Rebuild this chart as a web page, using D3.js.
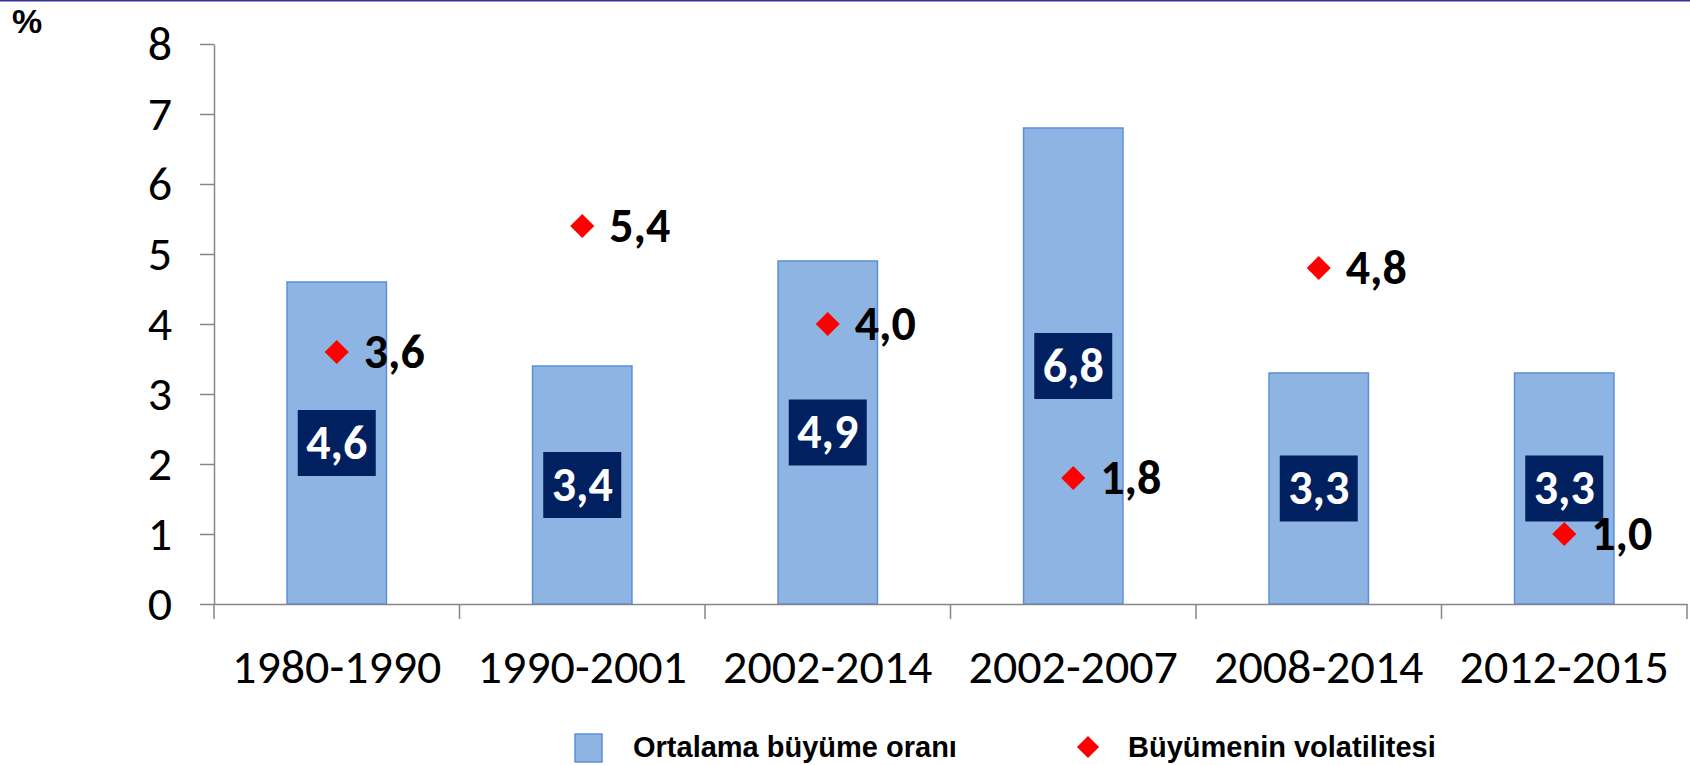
<!DOCTYPE html>
<html>
<head>
<meta charset="utf-8">
<script src="https://cdn.jsdelivr.net/npm/d3@7"></script>
<style>
  body { margin: 0; background: #fff; }
  svg { display: block; }
</style>
</head>
<body>
<div id="chart"></div>
<script>
// periods and the two series
const periods = ['1980-1990', '1990-2001', '2002-2014', '2002-2007', '2008-2014', '2012-2015'];
const avgGrowth = [4.6, 3.4, 4.9, 6.8, 3.3, 3.3];
const volatility = [3.6, 5.4, 4.0, 1.8, 4.8, 1.0];
const yTicks = [0, 1, 2, 3, 4, 5, 6, 7, 8];
const legendNames = ['Ortalama büyüme oranı', 'Büyümenin volatilitesi'];

const fmt = v => d3.format('.1f')(v).replace('.', ',');

const pageWidth = 1690;
const pageHeight = 765;
const numFont = 'Carlito, Calibri, Lato, sans-serif';
const numSize = 48;
const boldFont = '"Liberation Sans", Arial, sans-serif';
const axisColor = '#868686';

const svg = d3.select('#chart')
    .append('svg')
    .attr('width', pageWidth)
    .attr('height', pageHeight);

// thin rule along the top edge
svg.append('line')
    .attr('x1', 0).attr('x2', pageWidth)
    .attr('y1', 0.75).attr('y2', 0.75)
    .attr('stroke', '#333399')
    .attr('stroke-width', 1.5);

const plotLeft = 214, plotRight = 1687, plotTop = 44, plotBottom = 604;

const xCat = d3.scaleBand().domain(periods).range([plotLeft, plotRight]).padding(0);
const xBar = d3.scaleBand().domain(periods).range([plotLeft, plotRight])
    .paddingInner(0.595).paddingOuter(0.2975);
const y = d3.scaleLinear().domain([0, 8]).range([plotBottom, plotTop]);

// y axis
const yAxis = svg.append('g')
    .attr('transform', 'translate(' + plotLeft + ',0)')
    .call(d3.axisLeft(y).tickValues(yTicks).tickFormat(d => d)
        .tickSize(14).tickSizeOuter(0).tickPadding(28));
yAxis.select('.domain').attr('stroke', axisColor).attr('stroke-width', 1.5);
yAxis.selectAll('.tick line').attr('stroke', axisColor).attr('stroke-width', 1.5);
yAxis.selectAll('.tick text')
    .attr('font-family', numFont)
    .attr('font-size', numSize)
    .attr('fill', '#000')
    .attr('dy', '0.33em');

// bars
svg.selectAll('.bar')
    .data(periods)
    .enter()
    .append('rect')
    .attr('class', 'bar')
    .attr('x', d => xBar(d))
    .attr('width', xBar.bandwidth())
    .attr('y', (d, i) => y(avgGrowth[i]))
    .attr('height', (d, i) => y(0) - y(avgGrowth[i]))
    .attr('fill', '#8EB4E3')
    .attr('stroke', '#5B8FD8')
    .attr('stroke-width', 1.5);

// x axis: line, boundary ticks, labels
const xAxis = svg.append('g')
    .attr('transform', 'translate(0,' + plotBottom + ')')
    .call(d3.axisBottom(xCat).tickSize(0).tickSizeOuter(0).tickPadding(45));
xAxis.select('.domain').attr('stroke', axisColor).attr('stroke-width', 1.5);
xAxis.selectAll('.tick text')
    .attr('font-family', numFont)
    .attr('font-size', numSize)
    .attr('fill', '#000');

const bounds = periods.map(d => xCat(d)).concat([plotRight]);
svg.append('g').selectAll('line')
    .data(bounds)
    .enter()
    .append('line')
    .attr('x1', d => d).attr('x2', d => d)
    .attr('y1', plotBottom).attr('y2', plotBottom + 15)
    .attr('stroke', axisColor)
    .attr('stroke-width', 1.5);

// value boxes inside the bars
const boxW = 78, boxH = 66;
const boxes = svg.selectAll('.vbox')
    .data(periods)
    .enter()
    .append('g')
    .attr('class', 'vbox')
    .attr('transform', (d, i) => 'translate(' + (xBar(d) + xBar.bandwidth() / 2) + ',' + y(avgGrowth[i] / 2) + ')');
boxes.append('rect')
    .attr('x', -boxW / 2).attr('y', -boxH / 2)
    .attr('width', boxW).attr('height', boxH)
    .attr('fill', '#002060');
boxes.append('text')
    .attr('text-anchor', 'middle')
    .attr('dy', '0.33em')
    .attr('font-family', numFont)
    .attr('font-weight', 'bold')
    .attr('font-size', numSize)
    .attr('fill', '#fff')
    .text((d, i) => fmt(avgGrowth[i]));

// volatility diamonds + labels
const diamond = d3.symbol().type(d3.symbolSquare).size(290);
const pts = svg.selectAll('.pt')
    .data(periods)
    .enter()
    .append('g')
    .attr('class', 'pt')
    .attr('transform', (d, i) => 'translate(' + (xCat(d) + xCat.bandwidth() / 2) + ',' + y(volatility[i]) + ')');
pts.append('path')
    .attr('d', diamond)
    .attr('transform', 'rotate(45)')
    .attr('fill', '#FF0000');
pts.append('text')
    .attr('x', 27)
    .attr('dy', '0.33em')
    .attr('font-family', numFont)
    .attr('font-weight', 'bold')
    .attr('font-size', numSize)
    .attr('fill', '#000')
    .text((d, i) => fmt(volatility[i]));

// unit label
svg.append('text')
    .attr('x', 12).attr('y', 33)
    .attr('font-family', boldFont)
    .attr('font-weight', 'bold')
    .attr('font-size', 34)
    .text('%');

// legend
const legend = svg.append('g');
legend.append('rect')
    .attr('x', 575).attr('y', 734)
    .attr('width', 27).attr('height', 28)
    .attr('fill', '#8EB4E3')
    .attr('stroke', '#5B8FD8')
    .attr('stroke-width', 1.5);
legend.append('text')
    .attr('x', 633).attr('y', 757)
    .attr('font-family', boldFont)
    .attr('font-weight', 'bold')
    .attr('font-size', 29)
    .text(legendNames[0]);
legend.append('path')
    .attr('d', d3.symbol().type(d3.symbolSquare).size(245))
    .attr('transform', 'translate(1088,747) rotate(45)')
    .attr('fill', '#FF0000');
legend.append('text')
    .attr('x', 1128).attr('y', 757)
    .attr('font-family', boldFont)
    .attr('font-weight', 'bold')
    .attr('font-size', 29)
    .text(legendNames[1]);
</script>
</body>
</html>
